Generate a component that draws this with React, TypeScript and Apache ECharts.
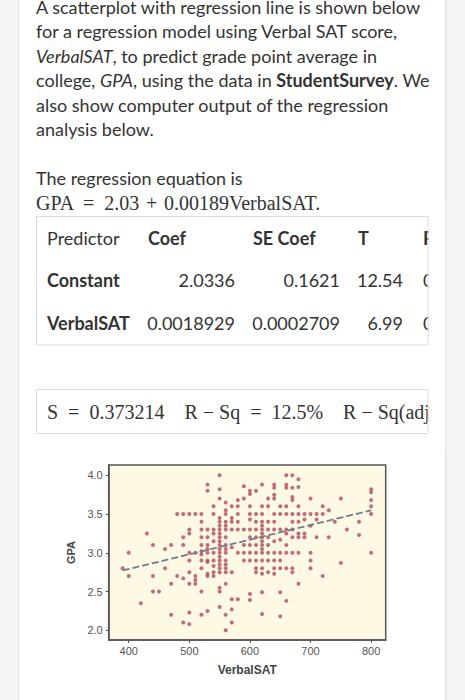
import React, { useEffect, useRef } from "react";
import * as echarts from "echarts";

// ---------- data ----------
const xTicks = [400, 500, 600, 700, 800];
const yTicks = [2.0, 2.5, 3.0, 3.5, 4.0];

const satColumns = [390, 400, 420, 430, 440, 450, 460, 470, 480, 490, 500, 510, 520, 530, 540, 550, 560, 570, 580, 590, 600, 610, 620, 630, 640, 650, 660, 670, 680, 690, 700, 710, 720, 730, 740, 750, 760, 780, 800];
const gpaByColumn = [
  [2.8],
  [3.0, 2.7],
  [2.35],
  [3.25],
  [3.1, 2.7, 2.5],
  [2.5],
  [3.05, 2.8],
  [3.1, 2.6, 2.2],
  [3.5, 2.7],
  [3.5, 3.2, 3.1, 2.67, 2.1],
  [3.5, 3.3, 3.25, 3.0, 2.9, 2.75, 2.6, 2.23, 2.08],
  [3.5, 3.0, 2.7, 2.65, 2.6],
  [3.5, 3.4, 3.3, 3.2, 3.1, 3.02, 2.98, 2.9, 2.8, 2.5, 2.2],
  [3.88, 3.8, 3.3, 3.2, 3.1, 3.05, 3.0, 2.9, 2.88, 2.73, 2.7, 2.25],
  [3.6, 3.5, 3.3, 3.25, 3.15, 3.0, 2.9, 2.83, 2.75, 2.7],
  [4.0, 3.82, 3.7, 3.45, 3.4, 3.35, 3.3, 3.25, 3.2, 3.15, 3.1, 3.05, 3.0, 2.95, 2.9, 2.85, 2.8, 2.75, 2.55, 2.5, 2.3],
  [3.65, 3.55, 3.5, 3.4, 3.35, 3.3, 3.2, 3.1, 3.05, 3.0, 2.9, 2.85, 2.8, 2.75, 2.6, 2.2, 2.0],
  [3.6, 3.45, 3.4, 3.3, 3.07, 2.75, 2.4, 2.27, 2.1],
  [3.68, 3.6, 3.5, 3.4, 3.3, 3.0, 2.4],
  [3.86, 3.7, 3.3, 3.1, 3.0, 2.9],
  [3.8, 3.76, 3.6, 3.5, 3.43, 3.3, 3.2, 3.1, 3.0, 2.9, 2.47, 2.39],
  [3.8, 3.5, 3.4, 3.3, 3.2, 3.1, 3.0, 2.9, 2.8, 2.75],
  [3.88, 3.6, 3.5, 3.4, 3.35, 3.3, 3.25, 3.2, 3.15, 3.1, 3.05, 3.0, 2.9, 2.8, 2.73, 2.49, 2.21],
  [3.7, 3.6, 3.4, 3.3, 3.2, 3.1, 3.0, 2.9, 2.75],
  [3.88, 3.84, 3.75, 3.7, 3.5, 3.4, 3.3, 3.15, 3.0, 2.9, 2.8, 2.73],
  [3.6, 3.5, 3.3, 3.17, 3.0, 2.9, 2.8, 2.49, 2.18],
  [4.0, 3.88, 3.84, 3.6, 3.5, 3.3, 3.25, 3.1, 3.0, 2.8, 2.38],
  [4.0, 3.84, 3.72, 3.68, 3.5, 3.4, 3.3, 3.2, 3.0, 2.8, 2.75],
  [3.95, 3.85, 3.6, 3.5, 3.4, 3.25, 3.2, 3.0, 2.6],
  [3.5, 3.43, 3.25, 3.2],
  [3.7, 3.5, 3.35, 3.0, 2.9, 2.8],
  [3.5, 3.43, 3.2],
  [3.6, 3.5, 2.7],
  [3.55, 3.2],
  [3.4],
  [3.7, 2.87],
  [3.3],
  [3.4, 3.23],
  [3.82, 3.78, 3.68, 3.6, 3.5, 3.0],
];

const intercept = 2.0336;
const slope = 0.0018929;
const lineRange = [390, 800];

const introLines = [
  "A scatterplot with regression line is shown below",
  "for a regression model using Verbal SAT score,",
  "{i|VerbalSAT}, to predict grade point average in",
  "college, {i|GPA}, using the data in {b|StudentSurvey}. We",
  "also show computer output of the regression",
  "analysis below.",
];
const equationIntro = "The regression equation is";
const equationText = "GPA  =  2.03\u2004+\u20040.00189VerbalSAT.";
const tableHeader = ["Predictor", "Coef", "SE Coef", "T", "P"];
const tableRows = [
  ["Constant", "2.0336", "0.1621", "12.54", "0.000"],
  ["VerbalSAT", "0.0018929", "0.0002709", "6.99", "0.000"],
];
const summaryText = "S  =  0.373214    R − Sq  =  12.5%    R − Sq(adj)  =  12.2%";

const SANS = "Lato, 'Noto Sans', sans-serif";
const SERIF = "'Liberation Serif', 'DejaVu Serif', serif";
const TEXT_COLOR = "#333";
const FS = 18;
const SERIF_FS = 20;

export default function App() {
  const ref = useRef<HTMLDivElement>(null);

  useEffect(() => {
    if (!ref.current) return;
    const chart = echarts.init(ref.current, undefined, { renderer: "svg" });

    const points: number[][] = [];
    satColumns.forEach((x, i) => {
      gpaByColumn[i].forEach((y) => points.push([x, y]));
    });
    const linePts = lineRange.map((x) => [x, intercept + slope * x]);

    const graphic: any[] = [];
    // card
    graphic.push({
      type: "rect",
      z: -10,
      shape: { x: 18.5, y: -2, width: 427, height: 710 },
      style: { fill: "#ffffff", stroke: "#e2e2e2", lineWidth: 1 },
    });

    // intro paragraph
    introLines.forEach((t, i) => {
      const baseline = 13.6 + i * 24.5;
      graphic.push({
        type: "text",
        z: 1,
        x: 36,
        y: baseline - 0.387 * FS,
        style: {
          text: t,
          font: `${FS}px ${SANS}`,
          fill: TEXT_COLOR,
          verticalAlign: "middle",
          align: "left",
          rich: {
            i: { fontStyle: "italic", fontSize: FS, fontFamily: SANS, fill: TEXT_COLOR },
            b: { fontWeight: "bold", fontSize: FS, fontFamily: SANS, fill: TEXT_COLOR },
          },
        },
      });
    });

    graphic.push({
      type: "text",
      z: 1,
      x: 36,
      y: 185 - 0.387 * FS,
      style: { text: equationIntro, font: `${FS}px ${SANS}`, fill: TEXT_COLOR, verticalAlign: "middle" },
    });
    graphic.push({
      type: "text",
      z: 1,
      x: 36,
      y: 210 - 0.3375 * SERIF_FS,
      style: { text: equationText, font: `${SERIF_FS}px ${SERIF}`, fill: TEXT_COLOR, verticalAlign: "middle" },
    });

    // table
    const colLeft = [47, 148, 253, 358, 423];
    const colRight = [0, 235, 340, 403, 0];
    const rowBase = [245, 287.3, 330];
    tableHeader.forEach((h, j) => {
      graphic.push({
        type: "text",
        z: 1,
        x: colLeft[j],
        y: rowBase[0] - 0.387 * FS,
        style: {
          text: h,
          font: `${j === 0 ? "normal" : "bold"} ${FS}px ${SANS}`,
          fill: TEXT_COLOR,
          verticalAlign: "middle",
          align: "left",
        },
      });
    });
    tableRows.forEach((row, r) => {
      row.forEach((cell, j) => {
        const leftAligned = j === 0 || j === 4;
        graphic.push({
          type: "text",
          z: 1,
          x: leftAligned ? colLeft[j] : colRight[j],
          y: rowBase[r + 1] - 0.387 * FS,
          style: {
            text: cell,
            font: `${j === 0 ? "bold" : "normal"} ${FS}px ${SANS}`,
            fill: TEXT_COLOR,
            verticalAlign: "middle",
            align: leftAligned ? "left" : "right",
          },
        });
      });
    });

    // summary line
    graphic.push({
      type: "text",
      z: 1,
      x: 47,
      y: 418.3 - 0.3375 * SERIF_FS,
      style: { text: summaryText, font: `${SERIF_FS}px ${SERIF}`, fill: TEXT_COLOR, verticalAlign: "middle" },
    });

    // covers (clip overflowing text at the box edge)
    graphic.push({
      type: "rect",
      z: 5,
      shape: { x: 428.5, y: 200, width: 18.5, height: 250 },
      style: { fill: "#ffffff", stroke: null },
    });
    graphic.push({
      type: "rect",
      z: 5,
      shape: { x: 446, y: 200, width: 22, height: 250 },
      style: { fill: "#f5f5f5", stroke: null },
    });
    graphic.push({
      type: "line",
      z: 6,
      shape: { x1: 446, y1: 0, x2: 446, y2: 700 },
      style: { stroke: "#e2e2e2", lineWidth: 1 },
    });
    // boxes
    graphic.push({
      type: "rect",
      z: 6,
      shape: { x: 36.5, y: 216.5, width: 391.5, height: 128.5 },
      style: { fill: "none", stroke: "#dcdcdc", lineWidth: 1 },
    });
    graphic.push({
      type: "rect",
      z: 6,
      shape: { x: 36.5, y: 389.5, width: 391.5, height: 44 },
      style: { fill: "none", stroke: "#dcdcdc", lineWidth: 1 },
    });

    const axisFont = "'Liberation Sans', Arial, sans-serif";

    chart.setOption({
      animation: false,
      backgroundColor: "#f5f5f5",
      grid: {
        left: 108.7,
        top: 465,
        right: 79.3,
        bottom: 60,
        show: true,
        backgroundColor: "#fdf9e4",
        borderColor: "#555",
        borderWidth: 1.5,
      },
      xAxis: {
        type: "value",
        min: 367,
        max: 824,
        name: "VerbalSAT",
        nameLocation: "middle",
        nameGap: 24,
        nameTextStyle: { fontFamily: axisFont, fontWeight: "bold", fontSize: 12, color: "#444" },
        axisLine: { show: true, lineStyle: { color: "#555", width: 1.5 } },
        axisTick: { show: true, customValues: xTicks, length: 3, lineStyle: { color: "#555" } },
        axisLabel: { customValues: xTicks, margin: 5, fontSize: 11, color: "#555", fontFamily: axisFont },
        splitLine: { show: false },
      },
      yAxis: {
        type: "value",
        min: 1.875,
        max: 4.133,
        name: "GPA",
        nameLocation: "middle",
        nameRotate: 90,
        nameGap: 28,
        nameTextStyle: { fontFamily: axisFont, fontWeight: "bold", fontSize: 11, color: "#444" },
        axisLine: { show: true, lineStyle: { color: "#555", width: 1.5 } },
        axisTick: { show: true, customValues: yTicks, length: 3, lineStyle: { color: "#555" } },
        axisLabel: {
          customValues: yTicks,
          margin: 6,
          fontSize: 11,
          color: "#555",
          fontFamily: axisFont,
          formatter: (v: number) => v.toFixed(1),
        },
        splitLine: { show: false },
      },
      series: [
        {
          type: "scatter",
          data: points,
          symbolSize: 4,
          itemStyle: { color: "#b04a5c" },
          silent: true,
        },
        {
          type: "line",
          data: linePts,
          symbol: "none",
          lineStyle: { color: "#6e7e8e", width: 1.8, type: [7, 3] },
          silent: true,
        },
      ],
      graphic,
    });

    return () => chart.dispose();
  }, []);

  return (
    <div
      ref={ref}
      style={{ position: "absolute", left: 0, top: 0, width: 465, height: 700 }}
    />
  );
}
